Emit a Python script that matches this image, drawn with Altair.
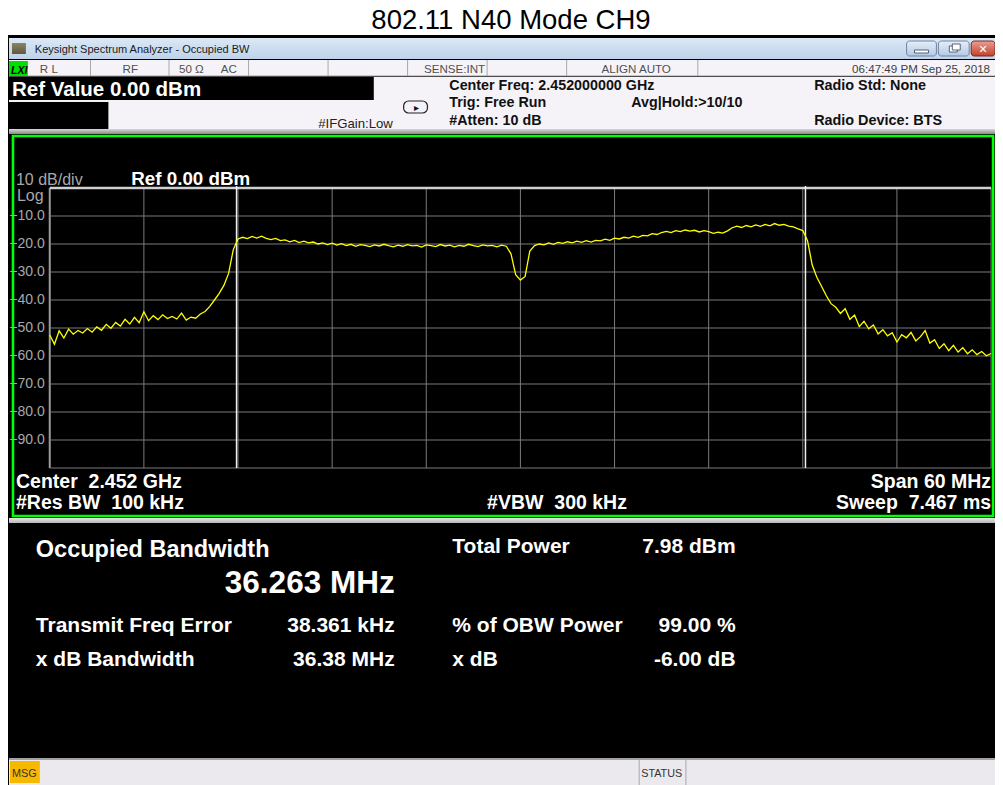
import altair as alt
import pandas as pd

# ---------------- data ----------------
title_text = "802.11 N40 Mode CH9"
window_title = "Keysight Spectrum Analyzer - Occupied BW"
status_left = ["R L", "RF", "50 Ω", "AC"]
status_sense = "SENSE:INT"
status_align = "ALIGN AUTO"
status_time = "06:47:49 PM Sep 25, 2018"
ref_value_text = "Ref Value 0.00 dBm"
if_gain_text = "#IFGain:Low"
settings_mid = ["Center Freq: 2.452000000 GHz", "Trig: Free Run", "#Atten: 10 dB"]
avg_hold_text = "Avg|Hold:>10/10"
radio_texts = ["Radio Std: None", "Radio Device: BTS"]
scale_texts = ["10 dB/div", "Ref 0.00 dBm", "Log"]
footer_left = ["Center\u00a0 2.452 GHz", "#Res BW\u00a0 100 kHz"]
footer_mid = "#VBW\u00a0 300 kHz"
footer_right = ["Span 60 MHz", "Sweep\u00a0 7.467 ms"]
obw_label = "Occupied Bandwidth"
obw_value_text = "36.263 MHz"
res_labels_left = ["Transmit Freq Error", "x dB Bandwidth"]
res_values_left = ["38.361 kHz", "36.38 MHz"]
res_labels_right = ["Total Power", "% of OBW Power", "x dB"]
res_values_right = ["7.98 dBm", "99.00 %", "-6.00 dB"]
msg_text = "MSG"
status_text = "STATUS"

# sweep: 60 MHz span around 2.452 GHz, offsets in MHz
span_start_mhz = -30.0
sweep_step_mhz = 0.3
trace_dbm = [
    -52.5, -55.8, -51.0, -53.6, -50.4, -52.2, -50.9, -51.8, -50.2, -51.5,
    -49.6, -50.8, -48.7, -50.1, -48.0, -49.3, -46.9, -48.6, -46.2, -48.1,
    -44.2, -47.4, -45.6, -47.0, -45.3, -46.6, -45.9, -46.8, -44.7, -47.2,
    -46.1, -46.5, -45.0, -44.1, -42.3, -40.0, -37.6, -34.8, -30.5, -22.0,
    -18.2, -17.6, -18.1, -17.3, -17.9, -17.2, -18.0, -18.4, -18.0, -18.8,
    -18.5, -19.2, -18.7, -19.5, -19.0, -19.6, -19.3, -20.0, -19.6, -20.2,
    -19.7, -20.4, -19.9, -20.6, -20.1, -20.8, -20.2, -20.5, -20.9, -20.3,
    -20.7, -20.1, -20.6, -21.0, -20.4, -20.8, -20.2, -20.7, -20.5, -21.1,
    -20.3, -20.6, -20.9, -20.2, -20.7, -20.4, -21.0, -20.5, -20.8, -20.1,
    -20.6, -20.9, -20.3, -20.7, -20.5, -21.0, -20.4, -20.8, -23.5, -31.0,
    -32.9, -31.6, -22.5, -20.6, -20.0, -20.3, -19.6, -20.1, -19.4, -19.8,
    -19.2, -19.6, -19.0, -19.4, -18.8, -19.3, -18.7, -18.9, -18.3, -18.7,
    -17.9, -18.2, -17.6, -17.9, -17.2, -17.6, -16.9, -17.1, -16.3, -16.6,
    -15.9, -15.5, -15.9, -15.2, -15.6, -15.0, -15.4, -15.1, -15.7, -15.2,
    -15.6, -16.2, -15.8, -16.1, -15.3, -14.2, -13.6, -14.1, -13.4, -13.9,
    -13.2, -13.7, -13.0, -13.5, -12.7, -13.3, -13.0, -13.6, -13.9, -14.6,
    -15.2, -18.8, -27.5, -32.0, -35.2, -38.5, -41.3, -42.6, -44.8, -43.1,
    -46.9, -45.4, -49.5, -47.6, -50.3, -48.9, -52.1, -50.6, -52.8, -51.7,
    -55.0, -52.4, -53.5, -51.6, -54.6, -53.1, -50.9, -55.4, -54.2, -57.3,
    -55.6, -58.1, -56.2, -58.6, -57.0, -59.2, -57.8, -59.5, -58.4, -59.9,
    -59.1,
]
freq_offset_mhz = [round(span_start_mhz + i * sweep_step_mhz, 2) for i in range(len(trace_dbm))]

obw_mhz = 36.263
freq_error_mhz = 0.038361
obw_markers = [freq_error_mhz - obw_mhz / 2, freq_error_mhz + obw_mhz / 2]

div_x = [-30, -24, -18, -12, -6, 0, 6, 12, 18, 24, 30]
div_y = [0, -10, -20, -30, -40, -50, -60, -70, -80, -90, -100]
y_tick_labels = [-10, -20, -30, -40, -50, -60, -70, -80, -90]

# ---------------- layout ----------------
TOTAL_W, TOTAL_H = 987, 777
SX = 0.994
FONT = "Liberation Sans"


def X(x):
    return (x - 8) * SX


def Y(y):
    return y - 8


PL, PT = X(50), Y(188)
PR, PB = X(997), Y(468)
W, H = PR - PL, PB - PT


def px(x):
    return round(X(x) - PL, 2)


def py(y):
    return round(Y(y) - PT, 2)


ONE = alt.Data(values=[{"k": 1}])
chrome = []
texts = []


def rect(x1, y1, x2, y2, fill, stroke=None, sw=1, radius=None, fill_opacity=None):
    kw = {"fill": fill}
    if stroke:
        kw["stroke"] = stroke
        kw["strokeWidth"] = sw
    if radius:
        kw["cornerRadius"] = radius
    if fill_opacity is not None:
        kw["fillOpacity"] = fill_opacity
    chrome.append(
        alt.Chart(ONE).mark_rect(**kw).encode(
            x=alt.value(px(x1)), x2=alt.value(px(x2)),
            y=alt.value(py(y1)), y2=alt.value(py(y2)))
    )


def vline(x, y1, y2, color, sw=1):
    chrome.append(
        alt.Chart(ONE).mark_rule(color=color, strokeWidth=sw).encode(
            x=alt.value(px(x)), y=alt.value(py(y1)), y2=alt.value(py(y2)))
    )


def hline(x1, x2, y, color, sw=1):
    chrome.append(
        alt.Chart(ONE).mark_rule(color=color, strokeWidth=sw).encode(
            x=alt.value(px(x1)), x2=alt.value(px(x2)), y=alt.value(py(y)))
    )


def text(s, x, y, size, color, weight="normal", align="left", font=FONT, italic=False):
    kw = dict(text=s, align=align, baseline="alphabetic", font=font,
              fontSize=size, fontWeight=weight, color=color)
    if italic:
        kw["fontStyle"] = "italic"
    texts.append(alt.Chart(ONE).mark_text(**kw).encode(x=alt.value(px(x)), y=alt.value(py(y))))


def vgrad(c1, c2):
    return {"gradient": "linear", "x1": 0, "x2": 0, "y1": 0, "y2": 1,
            "stops": [{"offset": 0, "color": c1}, {"offset": 1, "color": c2}]}


# window
rect(6, 35, 1003, 785, "#000000")
rect(9, 38, 1001, 59, vgrad("#dce8f5", "#bed3ea"))
rect(12, 43, 26, 54, vgrad("#8c8462", "#5e5a40"))
rect(912, 41, 942, 56, vgrad("#e6eef8", "#b4c9e2"), stroke="#6c84a6", radius=3)
rect(920, 50, 934, 53, "#ffffff", stroke="#30425e", sw=0.8)
rect(944, 41, 975, 56, vgrad("#e6eef8", "#b4c9e2"), stroke="#6c84a6", radius=3)
rect(955, 46, 963, 52, "#ffffff", stroke="#30425e", sw=0.8)
rect(958, 44, 966, 50, "#ffffff", stroke="#30425e", sw=0.8)
rect(977, 41, 1001, 56, vgrad("#e8a093", "#c2402c"), stroke="#7a2a20", radius=3)
# status row
rect(9, 60, 1001, 76, "#f6f3f8")
for sx_ in [91, 170, 250, 330, 410, 490, 570, 702]:
    vline(sx_, 60, 76, "#a8a8a8")
hline(9, 1001, 76, "#9a9a9a")
rect(9, 61, 28, 76, "#00e000")
# header panel
rect(9, 77, 1001, 130, "#f6f3f8")
rect(9, 77, 376, 100, "#000000")
rect(9, 102, 109, 130, "#000000")
rect(406, 101, 430, 113, "#ffffff", stroke="#222222", sw=1.2, radius=5, fill_opacity=0)
rect(9, 129, 1001, 134, vgrad("#d8d8d8", "#8a8a8a"))
# graticule frame
rect(13, 136, 999, 516, "#000000", stroke="#00ff00", sw=2.6)
# separator strip
rect(9, 518, 1001, 523, vgrad("#e6e6e6", "#b8b8b8"))
# bottom status bar
rect(9, 758, 1003, 785, "#ebe9ed")
hline(9, 1003, 759, "#8a8a8a", 1.5)
rect(10, 761, 40, 783, "#f7b800")
vline(643, 760, 785, "#a8a8a8")
vline(690, 760, 785, "#a8a8a8")

# ---------------- texts ----------------
text(title_text, 514, 29, 27.5, "#000000", align="center")
text(window_title, 35, 52.5, 11, "#1a1a1a")
text("✕", 989, 53, 11, "#ffffff", weight="bold", align="center", font="DejaVu Sans")
text("LXI", 11, 74, 10.5, "#000000", weight="bold", italic=True)
text(status_left[0], 40, 72.5, 11.6, "#505050")
text(status_left[1], 131, 72.5, 11.6, "#505050", align="center")
text(status_left[2], 180, 72.5, 11.6, "#505050")
text(status_left[3], 222, 72.5, 11.6, "#505050")
text(status_sense, 488, 72.5, 11.6, "#505050", align="right")
text(status_align, 640, 72.5, 11.6, "#505050", align="center")
text(status_time, 996, 72.5, 11.6, "#404040", align="right")
text(ref_value_text, 12, 96, 20.5, "#ffffff", weight="bold")
text(if_gain_text, 320, 127.5, 13.2, "#222222")
text("▸", 419, 111, 10, "#111111", align="center", font="DejaVu Sans")
text(settings_mid[0], 452, 90, 14.3, "#111111", weight="bold")
text(settings_mid[1], 452, 106.5, 14.3, "#111111", weight="bold")
text(settings_mid[2], 452, 124.5, 14.3, "#111111", weight="bold")
text(avg_hold_text, 635, 107, 14.3, "#111111", weight="bold")
text(radio_texts[0], 819, 90, 14.4, "#111111", weight="bold")
text(radio_texts[1], 819, 124.5, 14.4, "#111111", weight="bold")

text(scale_texts[0], 16, 184.5, 16, "#a8a8a8")
text(scale_texts[1], 132, 184.5, 18.8, "#ffffff", weight="bold")
text(scale_texts[2], 17, 200.5, 16, "#a8a8a8")

text(footer_left[0], 16, 488, 19.5, "#ffffff", weight="bold")
text(footer_left[1], 16, 509, 19.5, "#ffffff", weight="bold")
text(footer_mid, 490, 509, 19.5, "#ffffff", weight="bold")
text(footer_right[0], 997, 488, 19.5, "#ffffff", weight="bold", align="right")
text(footer_right[1], 997, 509, 19.5, "#ffffff", weight="bold", align="right")

text(obw_label, 36, 557, 23.5, "#ffffff", weight="bold")
text(obw_value_text, 397, 593, 31.5, "#ffffff", weight="bold", align="right")
text(res_labels_left[0], 36, 632, 21, "#ffffff", weight="bold")
text(res_values_left[0], 397, 632, 21, "#ffffff", weight="bold", align="right")
text(res_labels_left[1], 36, 666, 21, "#ffffff", weight="bold")
text(res_values_left[1], 397, 666, 21, "#ffffff", weight="bold", align="right")
text(res_labels_right[0], 455, 553, 21, "#ffffff", weight="bold")
text(res_values_right[0], 740, 553, 21, "#ffffff", weight="bold", align="right")
text(res_labels_right[1], 455, 632, 21, "#ffffff", weight="bold")
text(res_values_right[1], 740, 632, 21, "#ffffff", weight="bold", align="right")
text(res_labels_right[2], 455, 666, 21, "#ffffff", weight="bold")
text(res_values_right[2], 740, 666, 21, "#ffffff", weight="bold", align="right")

text(msg_text, 12, 777, 10.8, "#333333")
text(status_text, 645, 777, 10.8, "#333333")

# ---------------- data layers ----------------
xs = alt.Scale(domain=[-30, 30], nice=False, zero=False)
ys = alt.Scale(domain=[-100, 0], nice=False, zero=False)

vgrid = alt.Chart(pd.DataFrame({"f": div_x[1:]})).mark_rule(color="#7a7a7a", strokeWidth=1).encode(
    x=alt.X("f:Q", scale=xs, axis=None), y=alt.value(0), y2=alt.value(H))
vleft = alt.Chart(pd.DataFrame({"f": div_x[:1]})).mark_rule(color="#9c9c9c", strokeWidth=2).encode(
    x=alt.X("f:Q", scale=xs, axis=None), y=alt.value(0), y2=alt.value(H))
hgrid = alt.Chart(pd.DataFrame({"v": div_y[1:]})).mark_rule(color="#7a7a7a", strokeWidth=1).encode(
    y=alt.Y("v:Q", scale=ys, axis=None), x=alt.value(0), x2=alt.value(W))
htop = alt.Chart(pd.DataFrame({"v": div_y[:1]})).mark_rule(color="#d0d0d0", strokeWidth=2.5).encode(
    y=alt.Y("v:Q", scale=ys, axis=None), x=alt.value(0), x2=alt.value(W))
ylabels = alt.Chart(pd.DataFrame({"v": y_tick_labels})).mark_text(
    align="right", baseline="middle", font=FONT, fontSize=14, color="#a8a8a8").encode(
    y=alt.Y("v:Q", scale=ys, axis=None), x=alt.value(px(45)), text=alt.Text("v:Q", format=".1f"))
markers = alt.Chart(pd.DataFrame({"f": obw_markers})).mark_rule(color="#f0f0f0", strokeWidth=1.5).encode(
    x=alt.X("f:Q", scale=xs, axis=None), y=alt.value(py(186)), y2=alt.value(H))
trace = alt.Chart(pd.DataFrame({"f": freq_offset_mhz, "dbm": trace_dbm})).mark_line(
    color="#ffff00", strokeWidth=1.3).encode(
    x=alt.X("f:Q", scale=xs, axis=None), y=alt.Y("dbm:Q", scale=ys, axis=None))

data_layers = [vgrid, vleft, hgrid, htop, ylabels, markers, trace]

chart = alt.layer(*(chrome + data_layers + texts)).properties(
    width=W, height=H,
    autosize=alt.AutoSizeParams(type="none"),
    padding={"left": PL, "top": PT, "right": TOTAL_W - PR, "bottom": TOTAL_H - PB},
    background="white",
).configure_view(strokeWidth=0)

chart.save("out.html", embed_options={"renderer": "svg", "actions": False})
